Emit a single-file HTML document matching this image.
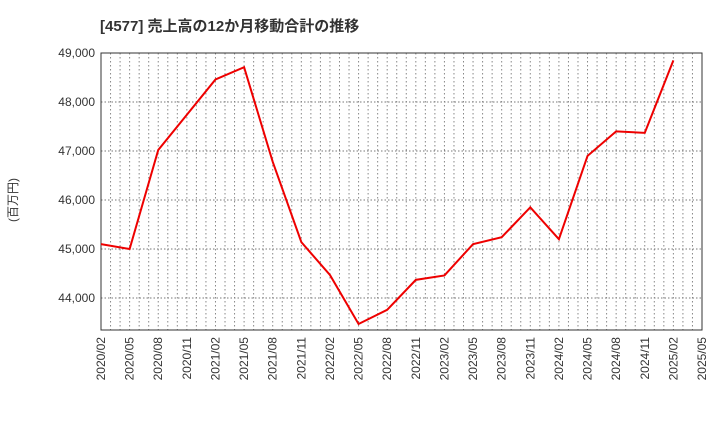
<!DOCTYPE html>
<html><head><meta charset="utf-8"><style>
body{margin:0;background:#fff;font-family:"Liberation Sans","Noto Sans CJK JP",sans-serif;}
</style></head><body>
<svg id="c" width="720" height="440" xmlns="http://www.w3.org/2000/svg">
<text x="100" y="31" font-size="15" font-weight="bold" fill="#333">[4577]  売上高の12か月移動合計の推移</text>
<text transform="translate(17,200) rotate(-90)" font-size="12" fill="#333" text-anchor="middle">(百万円)</text>
<g id="grid"></g><g id="axes"></g><g id="series"></g>
</svg>
<script>
const xLabels=["2020/02","2020/05","2020/08","2020/11","2021/02","2021/05","2021/08","2021/11","2022/02","2022/05","2022/08","2022/11","2023/02","2023/05","2023/08","2023/11","2024/02","2024/05","2024/08","2024/11","2025/02","2025/05"];
const yTicks=[44000,45000,46000,47000,48000,49000];
const values=[45100,45000,47020,47740,48460,48710,46780,45140,44470,43470,43760,44370,44460,45100,45240,45850,45200,46900,47400,47370,48850];
const L=101,R=702,T=53,B=330,yMax=49000,yMin=43347;
const NS="http://www.w3.org/2000/svg";
const x=i=>L+(R-L)*i/(xLabels.length-1);
const y=v=>T+(yMax-v)/(yMax-yMin)*(B-T);
function mk(tag,attrs,parent){const e=document.createElementNS(NS,tag);for(const k in attrs)e.setAttribute(k,attrs[k]);parent.appendChild(e);return e;}
const g=document.getElementById('grid'),a=document.getElementById('axes'),s=document.getElementById('series');
const months=(xLabels.length-1)*3;
for(let m=1;m<months;m++){const xx=L+(R-L)*m/months;const l=mk('line',{x1:xx,x2:xx,y1:T,y2:B,stroke:'#888','stroke-dasharray':'1.5,2.5','stroke-width':1},g);

}
yTicks.forEach(v=>{const yy=y(v);const l=mk('line',{x1:L,x2:R,y1:yy,y2:yy,stroke:'#777','stroke-dasharray':'1.5,2','stroke-width':1},g);


const t=mk('text',{x:L-6,y:yy+4,'font-size':12,fill:'#333','text-anchor':'end'},a);t.textContent=v.toLocaleString('en-US');

});
xLabels.forEach((lb,i)=>{const xx=x(i);const t=mk('text',{transform:`translate(${xx+4},${B+7}) rotate(-90)`,'font-size':12,fill:'#333','text-anchor':'end'},a);t.textContent=lb;

});
const fr=mk('rect',{x:L,y:T,width:R-L,height:B-T,fill:'none',stroke:'#333','stroke-width':1},a);


const p=mk('polyline',{points:values.map((v,i)=>x(i)+','+y(v)).join(' '),fill:'none',stroke:'#ee0000','stroke-width':2,'stroke-linejoin':'miter'},s);


</script>
</body></html>
